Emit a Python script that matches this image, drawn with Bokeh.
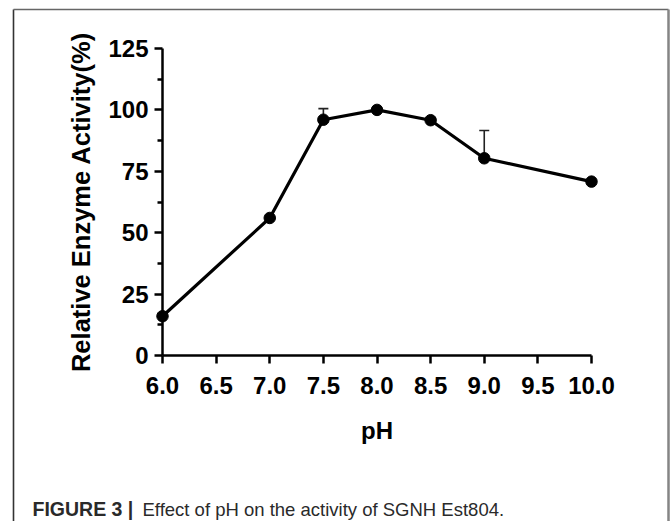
from bokeh.plotting import figure
from bokeh.models import (Range1d, FixedTicker, ColumnDataSource, Whisker, TeeHead,
                          PrintfTickFormatter)
from bokeh.core.properties import value
from bokeh.embed import file_html
from bokeh.resources import INLINE

# pH series with relative activity (%) and standard deviation
ph = [6.0, 7.0, 7.5, 8.0, 8.5, 9.0, 10.0]
activity = [16.0, 56.0, 96.0, 100.0, 95.8, 80.3, 70.8]
sd = [0.0, 0.0, 4.5, 0.0, 0.0, 11.3, 0.0]

x_ticks = [6.0, 6.5, 7.0, 7.5, 8.0, 8.5, 9.0, 9.5, 10.0]
y_ticks = [0, 25, 50, 75, 100, 125]
y_minor_ticks = [12.5, 37.5, 62.5, 87.5, 112.5]

caption_head = "FIGURE 3 |"
caption_body = "Effect of pH on the activity of SGNH Est804."

W, H = 672, 521
FL, FR, FT, FB = 162, 591, 48, 355   # plot frame edges (px)


def sx(px):
    """canvas pixel column -> x data value"""
    return x_ticks[0] + (px - FL) * (x_ticks[-1] - x_ticks[0]) / (FR - FL)


def sy(py):
    """canvas pixel row -> y data value"""
    return y_ticks[0] + (FB - py) * (y_ticks[-1] - y_ticks[0]) / (FB - FT)


p = figure(width=W, height=H, output_backend="svg", toolbar_location=None,
           x_range=Range1d(x_ticks[0], x_ticks[-1]),
           y_range=Range1d(y_ticks[0], y_ticks[-1]),
           min_border_left=FL, min_border_right=W - FR,
           min_border_top=FT, min_border_bottom=H - FB)
p.outline_line_color = None
p.grid.visible = False
p.background_fill_color = "white"
p.border_fill_color = "white"

src = ColumnDataSource(dict(ph=ph, act=activity))
err_ph = [x for x, s in zip(ph, sd) if s > 0]
err_lo = [a for a, s in zip(activity, sd) if s > 0]
err_hi = [a + s for a, s in zip(activity, sd) if s > 0]
err_src = ColumnDataSource(dict(base=err_ph, lower=err_lo, upper=err_hi))

p.add_layout(Whisker(base="base", lower="lower", upper="upper", source=err_src,
                     line_color="#222222", line_width=1.6,
                     upper_head=TeeHead(size=10, line_color="#222222", line_width=1.6),
                     lower_head=None))
line_r = p.line("ph", "act", source=src, line_color="black", line_width=3.2)
dots = p.scatter("ph", "act", source=src, size=11.5, color="black")
# keep the markers that sit on the axes whole
line_r.level = "overlay"
dots.level = "overlay"

for ax in (p.xaxis[0], p.yaxis[0]):
    ax.axis_line_width = 2.5
    ax.axis_line_color = "black"
    ax.major_tick_line_width = 2.5
    ax.minor_tick_line_width = 2.5
    ax.major_tick_in = 0
    ax.major_tick_out = 8
    ax.minor_tick_in = 0
    ax.minor_tick_out = 5
    ax.major_label_text_font = "Liberation Sans"
    ax.major_label_text_font_style = "bold"
    ax.major_label_text_font_size = "24px"
    ax.major_label_text_color = "black"
    ax.axis_label_text_font = "Liberation Sans"
    ax.axis_label_text_font_style = "bold"
    ax.axis_label_text_color = "black"

xa = p.xaxis[0]
xa.ticker = FixedTicker(ticks=x_ticks, minor_ticks=[])
xa.formatter = PrintfTickFormatter(format="%.1f")
xa.major_label_standoff = 13
xa.axis_label = "pH"
xa.axis_label_text_font_size = "24px"
xa.axis_label_standoff = 20

ya = p.yaxis[0]
ya.ticker = FixedTicker(ticks=y_ticks, minor_ticks=y_minor_ticks)
ya.major_label_standoff = 6
ya.axis_label = "Relative Enzyme Activity(%)"
ya.axis_label_text_font_size = "25.5px"
ya.axis_label_standoff = 10

# figure border, open at the bottom
bl = p.line([sx(13), sx(13)], [sy(9), sy(530)], line_color="#333333", line_width=1.6)
bt = p.line([sx(13), sx(668)], [sy(9), sy(9)], line_color="#666666", line_width=1.6)
br = p.line([sx(668), sx(668)], [sy(9), sy(530)], line_color="#858585", line_width=2.5)

# caption
ch = p.text(x=[sx(32)], y=[sy(508.5)], text=[caption_head],
            text_font=value("Liberation Sans"), text_font_style="bold",
            text_font_size="19.5px", text_color="#2a2a2a", text_baseline="middle")
cb = p.text(x=[sx(142)], y=[sy(508.5)], text=[caption_body],
            text_font=value("Liberation Sans"), text_font_size="18.5px",
            text_color="#2a2a2a", text_baseline="middle")
for r in (bl, bt, br, ch, cb):
    r.level = "overlay"

open("out.html", "w").write(file_html(p, INLINE))
